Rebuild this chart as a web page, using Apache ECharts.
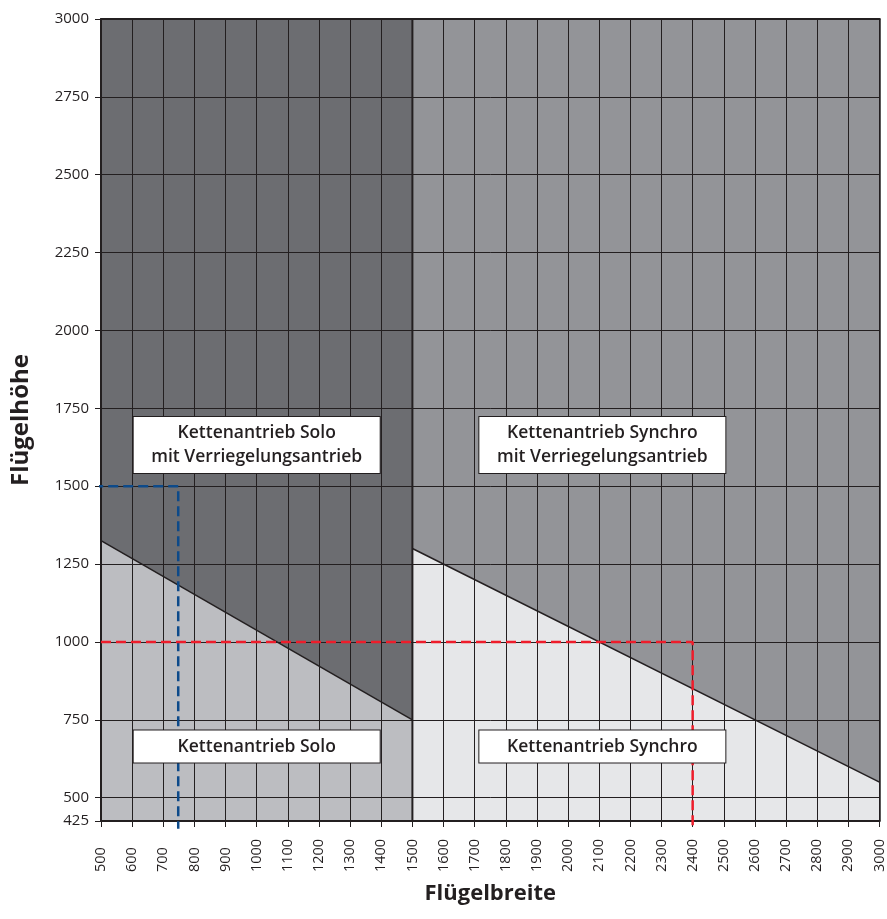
<!DOCTYPE html>
<html>
<head>
<meta charset="utf-8">
<script src="https://cdn.jsdelivr.net/npm/echarts@6/dist/echarts.min.js"></script>
<style>
  html, body { margin: 0; padding: 0; background: #fff; }
  #chart { width: 887px; height: 919px; }
</style>
</head>
<body>
<div id="chart"></div>
<script>
// Achsen
var yTicks = [425, 500, 750, 1000, 1250, 1500, 1750, 2000, 2250, 2500, 2750, 3000];

// Grenzlinien (Breite, Höhe)
var soloLimit = [[500, 1325], [1500, 750]];
var synchroLimit = [[1500, 1300], [3000, 550]];
var soloTop = [[500, 3000], [1500, 3000]];
var synchroTop = [[1500, 3000], [3000, 3000]];
var divider = [[1500, 425], [1500, 3000]];

// Beispiele (gestrichelt)
var blueExample = [[475, 1500], [748, 1500], [748, 400]];
var redExample = [[500, 1000], [2400, 1000], [2400, 400]];

// Beschriftungen
var boxTexts = [
  'Kettenantrieb Solo\nmit Verriegelungsantrieb',
  'Kettenantrieb Synchro\nmit Verriegelungsantrieb',
  'Kettenantrieb Solo',
  'Kettenantrieb Synchro'
];
var boxAnchors = [[1000, 1632], [2110, 1632], [1000, 664], [2110, 664]];

var ink = '#231f20';
var font = 'Open Sans';

var chart = echarts.init(document.getElementById('chart'));

function plain(v) { return String(v); }

function boxSeries(text, anchor) {
  return {
    type: 'scatter',
    z: 20,
    symbolSize: 1,
    itemStyle: { color: 'rgba(0,0,0,0)', opacity: 1 },
    silent: true,
    data: [anchor],
    labelLayout: { hideOverlap: false },
    label: {
      show: true,
      position: 'inside',
      formatter: text,
      fontFamily: font,
      fontSize: 17.5,
      fontWeight: 600,
      color: ink,
      lineHeight: 24,
      align: 'center',
      verticalAlign: 'middle',
      width: 230,
      backgroundColor: '#ffffff',
      borderColor: ink,
      borderWidth: 1,
      padding: [4, 8, 4, 8]
    }
  };
}

function areaSeries(data, color) {
  return {
    type: 'line',
    z: 2,
    symbol: 'none',
    silent: true,
    lineStyle: { width: 0 },
    areaStyle: { color: color, opacity: 1, origin: 'start' },
    data: data
  };
}

function lineSeries(data, color, width, dashed) {
  return {
    type: 'line',
    z: 10,
    symbol: 'none',
    silent: true,
    clip: false,
    lineStyle: { color: color, width: width, type: dashed ? [10, 5] : 'solid' },
    data: data
  };
}

chart.setOption({
  animation: false,
  grid: { left: 101, right: 6, top: 19, bottom: 98 },
  xAxis: [{
    type: 'value',
    min: 500,
    max: 3000,
    interval: 100,
    z: 5,
    name: 'Flügelbreite',
    nameLocation: 'middle',
    nameGap: 62,
    nameTextStyle: { fontFamily: font, fontSize: 22, fontWeight: 'bold', color: ink },
    axisLine: { show: true, onZero: false, lineStyle: { color: ink, width: 2 } },
    axisTick: { show: true, length: 6, lineStyle: { color: ink } },
    axisLabel: { rotate: 90, align: 'left', fontFamily: font, fontSize: 14.5, color: ink, margin: 51, formatter: plain },
    splitLine: { show: true, lineStyle: { color: ink, width: 1 } }
  }, {
    type: 'value',
    position: 'top',
    min: 500,
    max: 3000,
    z: 5,
    axisLine: { show: true, lineStyle: { color: ink, width: 2 } },
    axisTick: { show: false },
    axisLabel: { show: false },
    splitLine: { show: false }
  }],
  yAxis: [{
    type: 'value',
    min: 425,
    max: 3000,
    z: 5,
    name: 'Flügelhöhe',
    nameLocation: 'middle',
    nameGap: 68,
    nameTextStyle: { fontFamily: font, fontSize: 24, fontWeight: 'bold', color: ink },
    axisLine: { show: true, onZero: false, lineStyle: { color: ink, width: 2 } },
    axisTick: { show: true, length: 6, customValues: yTicks, lineStyle: { color: ink } },
    axisLabel: { customValues: yTicks, fontFamily: font, fontSize: 15, color: ink, margin: 12, formatter: plain },
    splitLine: { show: true, lineStyle: { color: ink, width: 1 } }
  }, {
    type: 'value',
    position: 'right',
    min: 425,
    max: 3000,
    z: 5,
    axisLine: { show: true, lineStyle: { color: ink, width: 1.5 } },
    axisTick: { show: false },
    axisLabel: { show: false },
    splitLine: { show: false }
  }],
  series: [
    areaSeries(soloTop, '#6c6d71'),
    areaSeries(synchroTop, '#939498'),
    areaSeries(soloLimit, '#bcbdc1'),
    areaSeries(synchroLimit, '#e6e7e9'),
    lineSeries(divider, ink, 2, false),
    lineSeries(soloLimit, ink, 1.5, false),
    lineSeries(synchroLimit, ink, 1.5, false),
    lineSeries(blueExample, '#0d4a8a', 2.5, true),
    lineSeries(redExample, '#ee1d2b', 2.5, true),
    boxSeries(boxTexts[0], boxAnchors[0]),
    boxSeries(boxTexts[1], boxAnchors[1]),
    boxSeries(boxTexts[2], boxAnchors[2]),
    boxSeries(boxTexts[3], boxAnchors[3])
  ]
});
</script>
</body>
</html>
